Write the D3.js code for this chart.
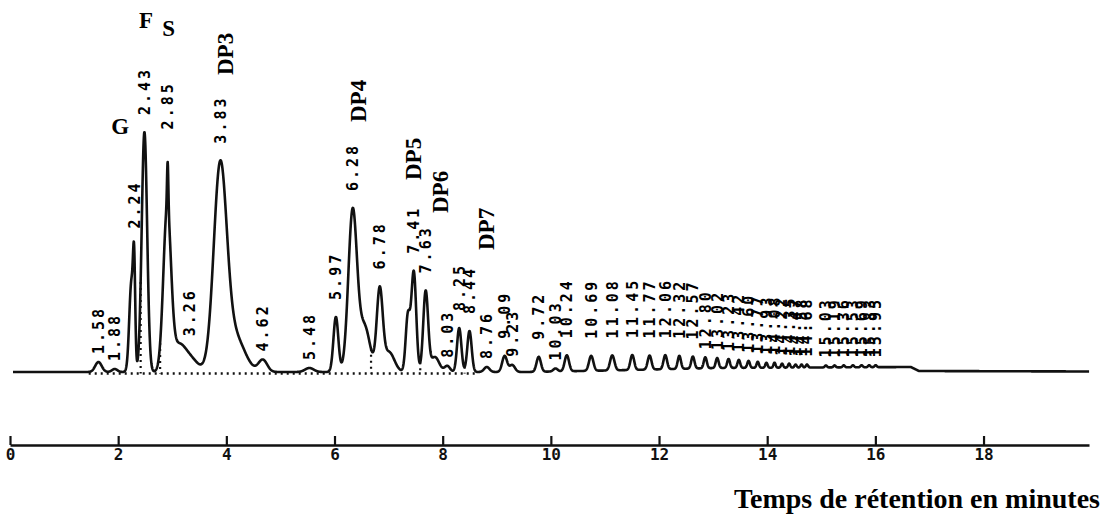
<!DOCTYPE html>
<html>
<head>
<meta charset="utf-8">
<script src="https://cdn.jsdelivr.net/npm/d3@7"></script>
<style>
  body { margin: 0; background: #fff; }
  .rt { font-family: "DejaVu Sans Mono", monospace; font-weight: bold; font-size: 15px; letter-spacing: 3px; }
  .note { font-family: "Liberation Serif", "Times New Roman", serif; font-weight: bold; font-size: 23px; }
  .axis text { font-family: "DejaVu Sans Mono", monospace; font-weight: bold; font-size: 16px; }
</style>
</head>
<body>
<div id="chart"></div>
<script>
// labelled peaks: retention time (min), height, width (sigma, min)
const retentionTimes = [1.58, 1.88, 2.24, 2.43, 2.85, 3.26, 3.83, 4.62, 5.48, 5.97, 6.28, 6.78, 7.41, 7.63,
  8.03, 8.25, 8.44, 8.76, 9.09, 9.23, 9.72, 10.03, 10.24, 10.69, 11.08, 11.45, 11.77, 12.06, 12.32, 12.57,
  12.80, 13.02, 13.23, 13.42, 13.60, 13.77, 13.93, 14.08, 14.22, 14.35, 14.47, 14.58, 14.68,
  15.03, 15.19, 15.36, 15.53, 15.69, 15.83, 15.95]
const peakHeights = [10, 3, 85, 240, 160, 14, 200, 12, 4, 55, 160, 80, 100, 80,
  6, 44, 41, 5, 16, 7, 15, 3, 16, 15, 15, 15, 14, 14, 13, 12,
  11, 10, 9, 8, 7, 6, 5, 5, 4, 4, 3, 3, 3,
  2, 2, 2, 2, 2, 2, 2]
const peakWidths = [0.06, 0.05, 0.02, 0.05, 0.07, 0.15, 0.12, 0.08, 0.08, 0.045, 0.08, 0.055, 0.045, 0.045,
  0.05, 0.04, 0.04, 0.05, 0.045, 0.05, 0.04, 0.04, 0.04, 0.04, 0.04, 0.035, 0.035, 0.033, 0.03, 0.03,
  0.028, 0.027, 0.026, 0.025, 0.024, 0.022, 0.021, 0.02, 0.02, 0.02, 0.02, 0.02, 0.02,
  0.02, 0.02, 0.02, 0.02, 0.02, 0.02, 0.02]

// unlabelled shoulders, spikes and tails
const shoulderTimes = [2.19, 2.86, 3.05, 4.10, 6.50, 6.95, 7.30, 7.80]
const shoulderHeights = [90, 45, 22, 35, 45, 20, 55, 15]
const shoulderWidths = [0.04, 0.012, 0.12, 0.18, 0.10, 0.10, 0.04, 0.08]

// slow baseline drift
const driftTimes = [0, 9.5, 11, 13, 16.6, 16.75, 19.95]
const driftLevels = [0, 0, 1.5, 4, 5, 1, 0.5]

// valley drop lines of the integrator
const dropTimes = [2.36, 2.72, 6.62, 7.53, 8.35]

const notes = ["G", "F", "S"]
const noteTimes = [1.98, 2.46, 2.88]
const noteLevels = [238, 344, 336]
const dpNotes = ["DP3", "DP4", "DP5", "DP6", "DP7"]
const dpTimes = [3.92, 6.38, 7.39, 7.89, 8.74]
const dpLevels = [297, 250, 192, 159, 122]

const axisTicks = [0, 2, 4, 6, 8, 10, 12, 14, 16, 18]
const axisTitle = "Temps de rétention en minutes"

const width = 1114
const height = 517
const penOffset = 3   // recorder pen sits a few pixels right of the printed time axis

const x = d3.scaleLinear().domain([0, 19.95]).range([10, 1089])
const y = d3.scaleLinear().domain([0, 250]).range([372, 122])
const drift = d3.scaleLinear().domain(driftTimes).range(driftLevels)

const comps = retentionTimes.map((t, i) => [t, peakHeights[i], peakWidths[i]])
  .concat(shoulderTimes.map((t, i) => [t, shoulderHeights[i], shoulderWidths[i]]))

const signal = t => drift(t) + d3.sum(comps, c => c[1] * Math.exp(-0.5 * ((t - c[0]) / c[2]) ** 2))

const svg = d3.select("#chart").append("svg")
  .attr("width", width)
  .attr("height", height)

const plot = svg.append("g")
  .attr("transform", "translate(" + penOffset + ",0)")

// trace
const times = d3.range(0, 19.9, 0.004)
plot.append("path")
  .datum(times)
  .attr("fill", "none")
  .attr("stroke", "#111")
  .attr("stroke-width", 2.6)
  .attr("stroke-linejoin", "round")
  .attr("d", d3.line().x(t => x(t)).y(t => y(signal(t))))

// dotted baseline + drops
plot.append("line")
  .attr("x1", x(1.4)).attr("x2", x(8.6))
  .attr("y1", y(-1.5)).attr("y2", y(-1.5))
  .attr("stroke", "#111").attr("stroke-width", 2.4)
  .attr("stroke-dasharray", "2,4")
plot.selectAll(".drop")
  .data(dropTimes)
  .enter()
  .append("line")
  .attr("class", "drop")
  .attr("x1", d => x(d)).attr("x2", d => x(d))
  .attr("y1", d => y(signal(d))).attr("y2", y(-1.5))
  .attr("stroke", "#111").attr("stroke-width", 2.2)
  .attr("stroke-dasharray", "2,4")

// retention time labels, printed upwards above each apex
const lift = {"2.85": 28}
plot.selectAll(".rt")
  .data(retentionTimes)
  .enter()
  .append("text")
  .attr("class", "rt")
  .attr("transform", d => {
    const h = signal(d)
    const gap = (h > 15 ? 17 : 8) + (lift[d.toFixed(2)] || 0)
    return "translate(" + x(d) + "," + (y(h) - gap) + ") rotate(-90)"
  })
  .attr("dy", "0.36em")
  .text(d => d.toFixed(2))

plot.selectAll(".n1")
  .data(notes)
  .enter()
  .append("text")
  .attr("class", "note")
  .attr("x", (d, i) => x(noteTimes[i]))
  .attr("y", (d, i) => y(noteLevels[i]))
  .attr("text-anchor", "middle")
  .text(d => d)

plot.selectAll(".n2")
  .data(dpNotes)
  .enter()
  .append("text")
  .attr("class", "note")
  .attr("transform", (d, i) => "translate(" + x(dpTimes[i]) + "," + y(dpLevels[i]) + ") rotate(-90)")
  .attr("dy", "0.36em")
  .text(d => d)

// time axis
const axis = svg.append("g")
  .attr("class", "axis")
  .attr("transform", "translate(0,445)")
  .call(d3.axisBottom(x).tickValues(axisTicks).tickFormat(d3.format("d"))
    .tickSizeInner(-9).tickSizeOuter(0).tickPadding(4))
axis.select(".domain").attr("stroke", "#111").attr("stroke-width", 2.6)
axis.selectAll(".tick line").attr("stroke", "#111").attr("stroke-width", 2.2)
axis.selectAll(".tick text").attr("fill", "#111")

svg.append("text")
  .attr("class", "note")
  .attr("x", 1100)
  .attr("y", 508)
  .attr("text-anchor", "end")
  .style("font-size", "28px")
  .text(axisTitle)
</script>
</body>
</html>
